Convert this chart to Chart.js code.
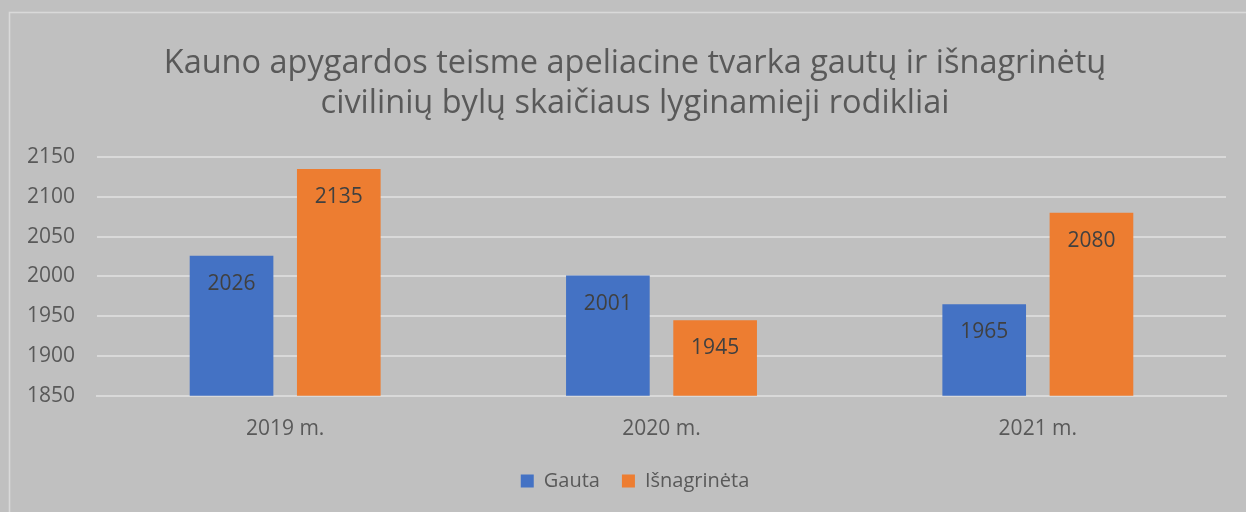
<!DOCTYPE html>
<html>
<head>
<meta charset="utf-8">
<script src="https://cdn.jsdelivr.net/npm/chart.js@4"></script>
<style>
  html, body { margin: 0; padding: 0; background: #c0c0c0; }
  #wrap { width: 1246px; height: 512px; position: relative; }
</style>
</head>
<body>
<div id="wrap"><canvas id="myChart" width="1246" height="512"></canvas></div>
<script>
// duomenys
const years = ['2019 m.', '2020 m.', '2021 m.'];
const gauta = [2026, 2001, 1965];
const isnagrineta = [2135, 1945, 2080];
const yTicks = [1850, 1900, 1950, 2000, 2050, 2100, 2150];

const textColor = '#595959';
const gridColor = '#d9d9d9';

// fonas ir rėmelis
const bgPlugin = {
  id: 'bg',
  beforeDraw(chart) {
    const ctx = chart.ctx;
    ctx.save();
    ctx.fillStyle = '#c0c0c0';
    ctx.fillRect(0, 0, chart.width, chart.height);
    ctx.strokeStyle = gridColor;
    ctx.lineWidth = 1.5;
    ctx.strokeRect(9.5, 12.5, chart.width + 20, chart.height + 20);
    ctx.restore();
  },
  // pavadinimą ir legendą centruoti pagal grafiko sritį
  afterLayout(chart) {
    chart.titleBlock.left += 35;
    chart.legend.left += 35;
    chart.legend.top -= 6;
  }
};

// reikšmės stulpelių viduje
const labelPlugin = {
  id: 'barLabels',
  afterDatasetsDraw(chart) {
    const ctx = chart.ctx;
    ctx.save();
    ctx.font = '21px "Open Sans"';
    ctx.fillStyle = '#404040';
    ctx.textAlign = 'center';
    ctx.textBaseline = 'middle';
    chart.data.datasets.forEach((ds, i) => {
      chart.getDatasetMeta(i).data.forEach((bar, j) => {
        ctx.fillText(ds.data[j], bar.x, bar.y + 28);
      });
    });
    ctx.restore();
  }
};

new Chart(document.getElementById('myChart'), {
  type: 'bar',
  data: {
    labels: years,
    datasets: [
      { label: 'Gauta', data: gauta, backgroundColor: '#4472c4' },
      { label: 'Išnagrinėta', data: isnagrineta, backgroundColor: '#ed7d31' }
    ]
  },
  options: {
    responsive: false,
    animation: false,
    layout: { padding: { left: 9, right: 20, top: 44, bottom: 5 } },
    datasets: { bar: { categoryPercentage: 0.57, barPercentage: 0.78 } },
    plugins: {
      title: {
        display: true,
        text: ['Kauno apygardos teisme apeliacine tvarka gautų ir išnagrinėtų', 'civilinių bylų skaičiaus lyginamieji rodikliai'],
        color: textColor,
        font: { family: 'Open Sans', size: 32.5, weight: 'normal', lineHeight: 1.23 },
        padding: { top: 0, bottom: 33 }
      },
      legend: {
        position: 'bottom',
        labels: {
          color: textColor,
          font: { family: 'Open Sans', size: 20 },
          boxWidth: 13,
          boxHeight: 13,
          padding: 22
        }
      },
      tooltip: { enabled: false }
    },
    scales: {
      x: {
        grid: { display: false },
        border: { display: true, color: gridColor, width: 2 },
        ticks: { color: textColor, font: { family: 'Open Sans', size: 21 }, padding: 13 }
      },
      y: {
        min: 1850,
        max: 2150,
        afterBuildTicks(scale) { scale.ticks = yTicks.map(v => ({ value: v })); },
        afterFit(scale) { scale.width = 88; },
        grid: { color: gridColor, lineWidth: 2, drawTicks: false },
        border: { display: false },
        ticks: {
          color: textColor,
          font: { family: 'Open Sans', size: 21 },
          padding: 22,
          callback: (v) => String(v)
        }
      }
    }
  },
  plugins: [bgPlugin, labelPlugin]
});
</script>
</body>
</html>
